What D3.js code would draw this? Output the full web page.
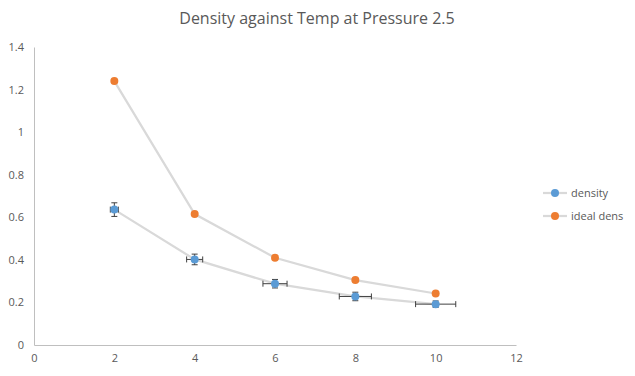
<!DOCTYPE html>
<html>
<head>
<meta charset="utf-8">
<script src="https://cdn.jsdelivr.net/npm/d3@7"></script>
<style>
  body { margin: 0; background: #fff; }
  text { font-family: "Open Sans", "Noto Sans", sans-serif; fill: #595959; }
</style>
</head>
<body>
<div id="chart"></div>
<script>
// chart values
let temps = [2, 4, 6, 8, 10];
let density = [0.636, 0.402, 0.288, 0.228, 0.192];
let idealDens = [1.24, 0.615, 0.41, 0.305, 0.242];
let densityErrY = [0.032, 0.025, 0.02, 0.02, 0.015];
let densityErrX = [0.1, 0.2, 0.3, 0.4, 0.5];
let xTicks = [0, 2, 4, 6, 8, 10, 12];
let yTicks = [0, 0.2, 0.4, 0.6, 0.8, 1, 1.2, 1.4];
let seriesNames = ["density", "ideal dens"];
let seriesColors = ["#5b9bd5", "#ed7d31"];

let width = 635, height = 376;
let margin = {top: 47, right: 119, bottom: 31, left: 34};

let svg = d3.select("#chart").append("svg")
    .attr("width", width)
    .attr("height", height);

let x = d3.scaleLinear().domain([0, 12]).range([margin.left, width - margin.right]);
let y = d3.scaleLinear().domain([0, 1.4]).range([height - margin.bottom, margin.top]);

// title
svg.append("text")
    .attr("x", 317)
    .attr("y", 24)
    .attr("text-anchor", "middle")
    .style("font-size", "16px")
    .text("Density against Temp at Pressure 2.5");

// axes
let xAxis = svg.append("g")
    .attr("transform", "translate(0," + y(0) + ")")
    .call(d3.axisBottom(x).tickValues(xTicks).tickSize(0).tickPadding(9).tickFormat(d3.format("d")));
let yAxis = svg.append("g")
    .attr("transform", "translate(" + x(0) + ",0)")
    .call(d3.axisLeft(y).tickValues(yTicks).tickSize(0).tickPadding(10).tickFormat(d => String(d)));
[xAxis, yAxis].forEach(function (a) {
    a.select(".domain").attr("stroke", "#bfbfbf");
    a.selectAll("text").style("font-size", "11px").attr("fill", "#595959")
        .style("font-family", "\"Open Sans\", \"Noto Sans\", sans-serif");
});

// lines (straight segments)
let line = d3.line()
    .x((d, i) => x(temps[i]))
    .y(d => y(d));

[density, idealDens].forEach(function (vals) {
    svg.append("path")
        .attr("d", line(vals))
        .attr("fill", "none")
        .attr("stroke", "#d9d9d9")
        .attr("stroke-width", 2.25);
});

// error bars for density
let cap = 3;
let err = svg.append("g").attr("stroke", "#404040").attr("stroke-width", 1);
temps.forEach(function (t, i) {
    let cx = x(t), cy = y(density[i]);
    let y1 = y(density[i] + densityErrY[i]), y2 = y(density[i] - densityErrY[i]);
    let x1 = x(t - densityErrX[i]), x2 = x(t + densityErrX[i]);
    err.append("line").attr("x1", cx).attr("x2", cx).attr("y1", y1).attr("y2", y2);
    err.append("line").attr("x1", cx - cap).attr("x2", cx + cap).attr("y1", y1).attr("y2", y1);
    err.append("line").attr("x1", cx - cap).attr("x2", cx + cap).attr("y1", y2).attr("y2", y2);
    err.append("line").attr("x1", x1).attr("x2", x2).attr("y1", cy).attr("y2", cy);
    err.append("line").attr("x1", x1).attr("x2", x1).attr("y1", cy - cap).attr("y2", cy + cap);
    err.append("line").attr("x1", x2).attr("x2", x2).attr("y1", cy - cap).attr("y2", cy + cap);
});

// markers
[density, idealDens].forEach(function (vals, s) {
    svg.append("g").selectAll("circle")
        .data(vals)
        .enter()
        .append("circle")
        .attr("cx", (d, i) => x(temps[i]))
        .attr("cy", d => y(d))
        .attr("r", 4)
        .attr("fill", seriesColors[s]);
});

// legend
let legend = svg.append("g")
    .selectAll("g")
    .data(seriesNames)
    .enter()
    .append("g")
    .attr("transform", (d, i) => "translate(543," + (193 + i * 23) + ")");
legend.append("line")
    .attr("x1", 0).attr("x2", 24)
    .attr("stroke", "#d9d9d9").attr("stroke-width", 2.25);
legend.append("circle")
    .attr("cx", 12).attr("r", 4)
    .attr("fill", (d, i) => seriesColors[i]);
legend.append("text")
    .attr("x", 28).attr("dy", "0.35em")
    .style("font-size", "11px")
    .text(d => d);
</script>
</body>
</html>
